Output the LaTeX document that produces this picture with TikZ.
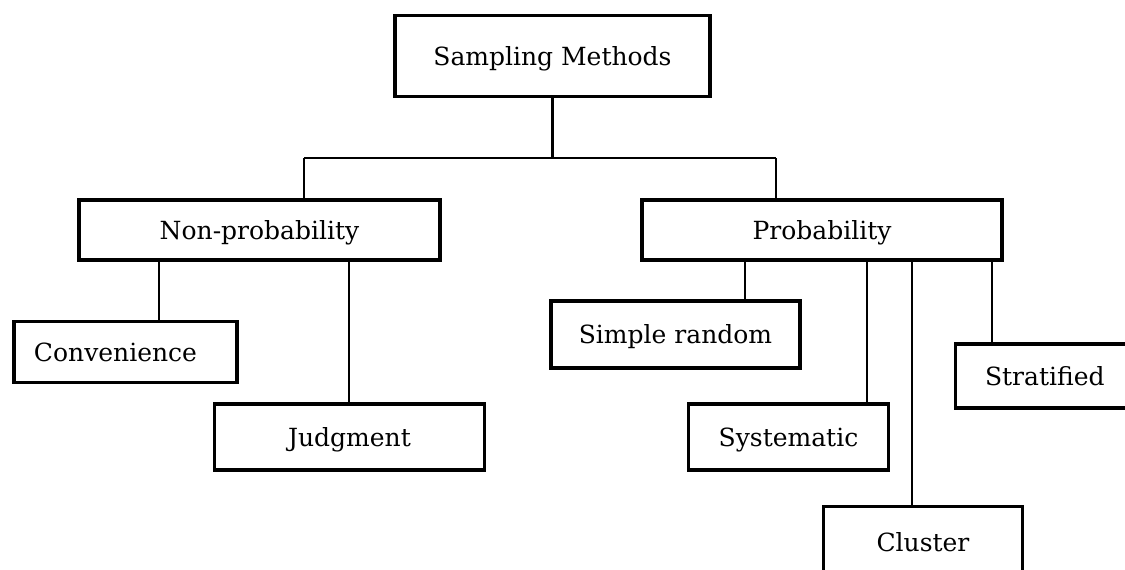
\documentclass[tikz,border=0pt]{standalone}
\usepackage{fontspec}
\setmainfont{DejaVu Serif}
\usepackage{tikz}
\usetikzlibrary{calc}

\begin{document}
\begin{tikzpicture}[x=1pt,y=-1pt,
	box/.style={draw, line width=3.6pt, inner sep=0pt, font=\fontsize{25}{30}\selectfont,
		text height=18pt, text depth=0pt},
	link/.style={line width=2.2pt}]

\useasboundingbox (0,0) rectangle (1125,570);
\clip (0,0) rectangle (1125,570);

% top level
\node[box, minimum width=315pt, minimum height=81pt] (sm) at (552.5,56) {Sampling Methods};

\node[box, minimum width=361pt, minimum height=60pt] (np) at (259.5,230) {Non-probability};
\node[box, minimum width=360pt, minimum height=60pt] (pr) at (822,230) {Probability};

% non-probability methods
\node[box, minimum width=223pt, minimum height=61pt, text width=183pt, inner xsep=20pt, align=left] (cv) at (125.5,352) {Convenience};
\node[box, minimum width=270pt, minimum height=66pt] (jd) at (349.5,437) {Judgment};

% probability methods
\node[box, minimum width=249pt, minimum height=67pt] (sr) at (675.5,334.5) {Simple random};
\node[box, minimum width=200pt, minimum height=66pt] (sy) at (788.5,437) {Systematic};
\node[box, minimum width=199pt, minimum height=72pt] (cl) at (923,542.5) {Cluster};
\node[box, minimum width=190pt, minimum height=64pt, text width=190pt, inner xsep=0pt, align=left] (st) at (1050.5,376) {\hspace*{29.5pt}Stratified};

\coordinate (jl) at (304,158);
\coordinate (jr) at (776,158);

\draw[link] (sm.south) -- (sm.south |- jl);
\draw[link] (jl) -- (jr);
\draw[link] (jl) -- (jl |- np.north);
\draw[link] (jr) -- (jr |- pr.north);

\foreach \x/\n in {159/cv,349/jd}  {
	\draw[link] (np.south -| \x,0) -- (\n.north -| \x,0);
}
\foreach \x/\n in {745/sr,867/sy,912/cl,992/st}  {
	\draw[link] (pr.south -| \x,0) -- (\n.north -| \x,0);
}

\end{tikzpicture}
\end{document}
